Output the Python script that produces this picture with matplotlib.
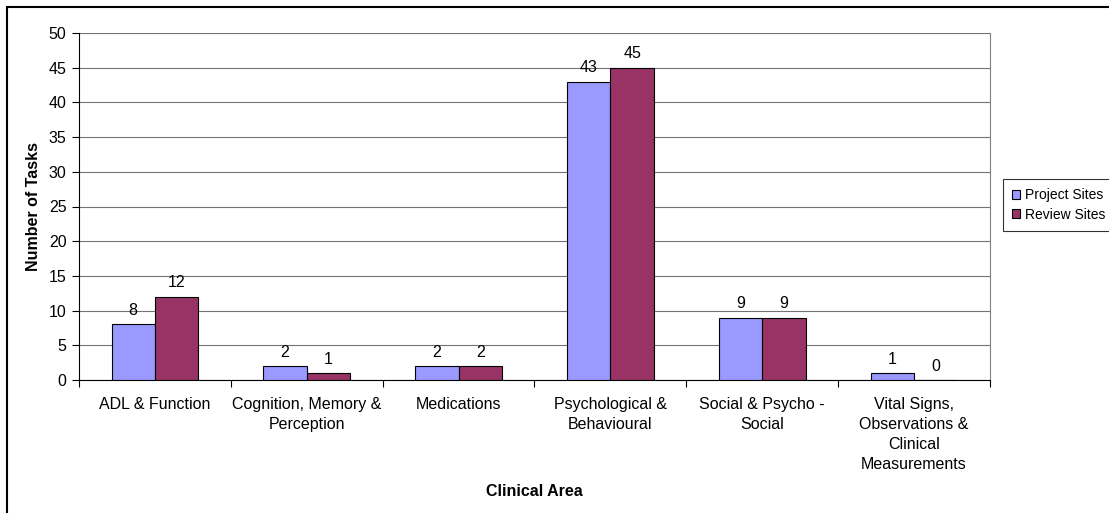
import matplotlib
matplotlib.use("Agg")
import matplotlib.pyplot as plt
import numpy as np
from matplotlib.patches import Rectangle

categories = [
    "ADL & Function",
    "Cognition, Memory &\nPerception",
    "Medications",
    "Psychological &\nBehavioural",
    "Social & Psycho -\nSocial",
    "Vital Signs,\nObservations &\nClinical\nMeasurements",
]
project_sites = [8, 2, 2, 43, 9, 1]
review_sites = [12, 1, 2, 45, 9, 0]
series_names = ["Project Sites", "Review Sites"]
y_ticks = [0, 5, 10, 15, 20, 25, 30, 35, 40, 45, 50]

plt.rcParams["font.family"] = ["Liberation Sans", "DejaVu Sans"]
FS = 11.5

W, H = 1109, 513
fig = plt.figure(figsize=(W / 100, H / 100), dpi=100)

# outer chart frame (runs off the right and bottom edges)
fig.patches.append(Rectangle((7 / W, -0.1), 1.2, 1 - 7 / H + 0.1,
                             transform=fig.transFigure, fill=False,
                             edgecolor="black", linewidth=1.5))

left, right, top, bottom = 79, 990, 33, 380
ax = fig.add_axes([left / W, 1 - bottom / H, (right - left) / W, (bottom - top) / H])

n = len(categories)
x = np.arange(n)
bw = 1 / 3.5
blue = "#9999FF"
maroon = "#993366"

b1 = ax.bar(x - bw / 2, project_sites, bw, color=blue, edgecolor="black",
            linewidth=0.8, label=series_names[0], zorder=3)
b2 = ax.bar(x + bw / 2, review_sites, bw, color=maroon, edgecolor="black",
            linewidth=0.8, label=series_names[1], zorder=3)

for bars, vals in ((b1, project_sites), (b2, review_sites)):
    for rect, v in zip(bars, vals):
        ax.annotate(str(v), (rect.get_x() + rect.get_width() / 2, v),
                    xytext=(0, 4.5), textcoords="offset points",
                    ha="center", va="bottom", fontsize=FS, zorder=4)

ax.set_xlim(-0.5, n - 0.5)
ax.set_ylim(0, 50)
ax.set_yticks(y_ticks)
ax.yaxis.grid(True, color="#000000", linewidth=0.8, alpha=0.55, zorder=0)
ax.set_axisbelow(True)

ax.set_xticks(x)
ax.set_xticklabels(categories, fontsize=FS, linespacing=1.42)
ax.set_xticks(np.arange(n + 1) - 0.5, minor=True)
ax.tick_params(axis="x", which="major", length=0, pad=12)
ax.tick_params(axis="x", which="minor", length=5, direction="out", width=0.8)
ax.tick_params(axis="y", length=5, direction="out", labelsize=FS, width=0.8, pad=4)

for side in ("left", "bottom"):
    ax.spines[side].set_color("black")
    ax.spines[side].set_linewidth(0.8)
ax.spines["right"].set_color("#808080")
ax.spines["right"].set_linewidth(0.8)
ax.spines["top"].set_visible(False)

ax.set_ylabel("Number of Tasks", fontsize=FS, fontweight="bold")
ax.yaxis.set_label_coords(-(left - 33) / (right - left), 0.5)
ax.set_xlabel("Clinical Area", fontsize=FS, fontweight="bold")
ax.xaxis.set_label_coords(0.5, -(492 - bottom) / (bottom - top))
ax.xaxis.label.set_va("center")
ax.yaxis.label.set_va("center")

leg = fig.legend(handles=[b1, b2], labels=series_names, loc="upper left",
                 bbox_to_anchor=(1003 / W, 1 - 179 / H), fontsize=10,
                 frameon=True, fancybox=False, edgecolor="black",
                 handlelength=0.6, handleheight=0.6, handletextpad=0.35,
                 borderpad=0.65, labelspacing=0.4, borderaxespad=0)
leg.get_frame().set_linewidth(0.8)

fig.savefig("out.png", dpi=100)
